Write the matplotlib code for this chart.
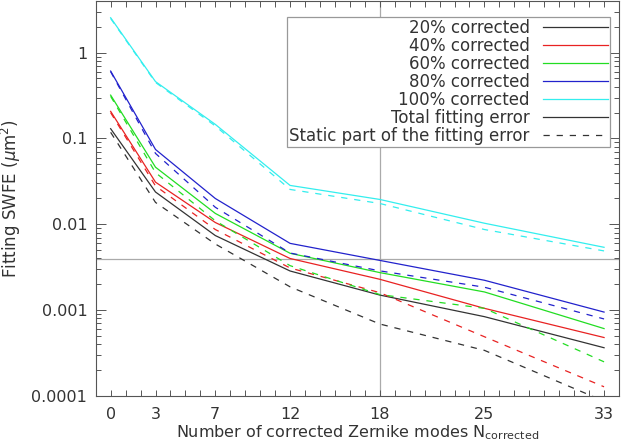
import matplotlib
matplotlib.use("Agg")
import matplotlib.pyplot as plt
from matplotlib.lines import Line2D
from matplotlib.ticker import LogLocator, NullFormatter

# ---- data -----------------------------------------------------------------
nmodes = [0, 3, 7, 12, 18, 25, 33]
xtick_pos = [0, 3, 7, 12, 18, 25, 33]

total_20 = [0.130, 0.0238, 0.0074, 0.00286, 0.0015, 0.00084, 0.000365]
static_20 = [0.118, 0.018, 0.0059, 0.00187, 0.00069, 0.00034, 0.000087]
total_40 = [0.207, 0.031, 0.0105, 0.0040, 0.00229, 0.00105, 0.00048]
static_40 = [0.200, 0.028, 0.0087, 0.0031, 0.0016, 0.00049, 0.000128]
total_60 = [0.32, 0.0463, 0.0134, 0.0046, 0.00274, 0.00163, 0.00061]
static_60 = [0.31, 0.040, 0.011, 0.0033, 0.00152, 0.00105, 0.00025]
total_80 = [0.61, 0.0745, 0.020, 0.0060, 0.0038, 0.00223, 0.00095]
static_80 = [0.60, 0.067, 0.0158, 0.00463, 0.00287, 0.00185, 0.00079]
total_100 = [2.55, 0.46, 0.146, 0.0284, 0.0195, 0.0103, 0.0054]
static_100 = [2.50, 0.45, 0.140, 0.0255, 0.0175, 0.0087, 0.0049]

ref_x = 18
ref_y = 0.0039

labels = ["20% corrected", "40% corrected", "60% corrected",
          "80% corrected", "100% corrected"]
colors = ["#333333", "#e82222", "#22dd22", "#2222cc", "#33eeee"]
totals = [total_20, total_40, total_60, total_80, total_100]
statics = [static_20, static_40, static_60, static_80, static_100]

# ---- figure ---------------------------------------------------------------
TXT = "#333333"
AX = "#555555"
DASH = (0, (5, 5.5))
plt.rcParams["font.family"] = ["DejaVu Sans"]
plt.rcParams["mathtext.default"] = "regular"

fig = plt.figure(figsize=(6.21, 4.47), dpi=100)
ax = fig.add_axes([0.1541, 0.1141, 0.8427, 0.8837])

ax.axvline(ref_x, color="#aaaaaa", lw=0.9, zorder=1)
ax.axhline(ref_y, color="#aaaaaa", lw=0.9, zorder=1)

for tot, sta, c in zip(totals, statics, colors):
    ax.plot(nmodes, tot, color=c, lw=0.9, zorder=3)
    ax.plot(nmodes, sta, color=c, lw=0.9, ls=DASH, zorder=3)

ax.set_yscale("log")
ax.set_xlim(-1, 34)
ax.set_ylim(1e-4, 4.0)

ax.set_xticks(xtick_pos)
ax.set_xticks(range(0, 34), minor=True)
ax.set_yticks([1e-4, 1e-3, 1e-2, 1e-1, 1],
              ["0.0001", "0.001", "0.01", "0.1", "1"])
ax.yaxis.set_minor_locator(LogLocator(base=10, subs=range(2, 10), numticks=20))
ax.yaxis.set_minor_formatter(NullFormatter())

ax.tick_params(axis="x", which="both", direction="in", top=True,
               length=4.3, width=0.7, color=AX, labelsize=11.5,
               labelcolor=TXT, pad=8)
ax.tick_params(axis="y", which="major", direction="in", right=True,
               length=7.2, width=0.7, color=AX, labelsize=11.5,
               labelcolor=TXT, pad=6)
ax.tick_params(axis="y", which="minor", direction="in", right=True,
               length=3.6, width=0.7, color=AX)
for s in ax.spines.values():
    s.set_color(AX)
    s.set_linewidth(0.8)

ax.set_xlabel(r"Number of corrected Zernike modes N$_{\rm corrected}$",
              fontsize=11.5, color=TXT, labelpad=1)
ax.set_ylabel(r"Fitting SWFE ($\mathit{\mu}$m$^2$)", fontsize=12,
              color=TXT, labelpad=6)

# legend: text right aligned, sample line on the right
handles = [Line2D([], [], color=c, lw=0.9) for c in colors]
handles.append(Line2D([], [], color="#333333", lw=0.9))
handles.append(Line2D([], [], color="#333333", lw=0.9, ls=DASH))
leg_labels = labels + ["Total fitting error", "Static part of the fitting error"]
leg = ax.legend(handles, leg_labels, loc="upper right",
                bbox_to_anchor=(0.9828, 0.9603), borderaxespad=0,
                markerfirst=False, fontsize=12, handlelength=3.9,
                handletextpad=0.8, labelspacing=0.0, borderpad=0.12,
                fancybox=False, framealpha=1, edgecolor="#999999")
leg.get_frame().set_linewidth(0.9)
for t in leg.get_texts():
    t.set_color(TXT)

fig.savefig("out.png", dpi=100)
